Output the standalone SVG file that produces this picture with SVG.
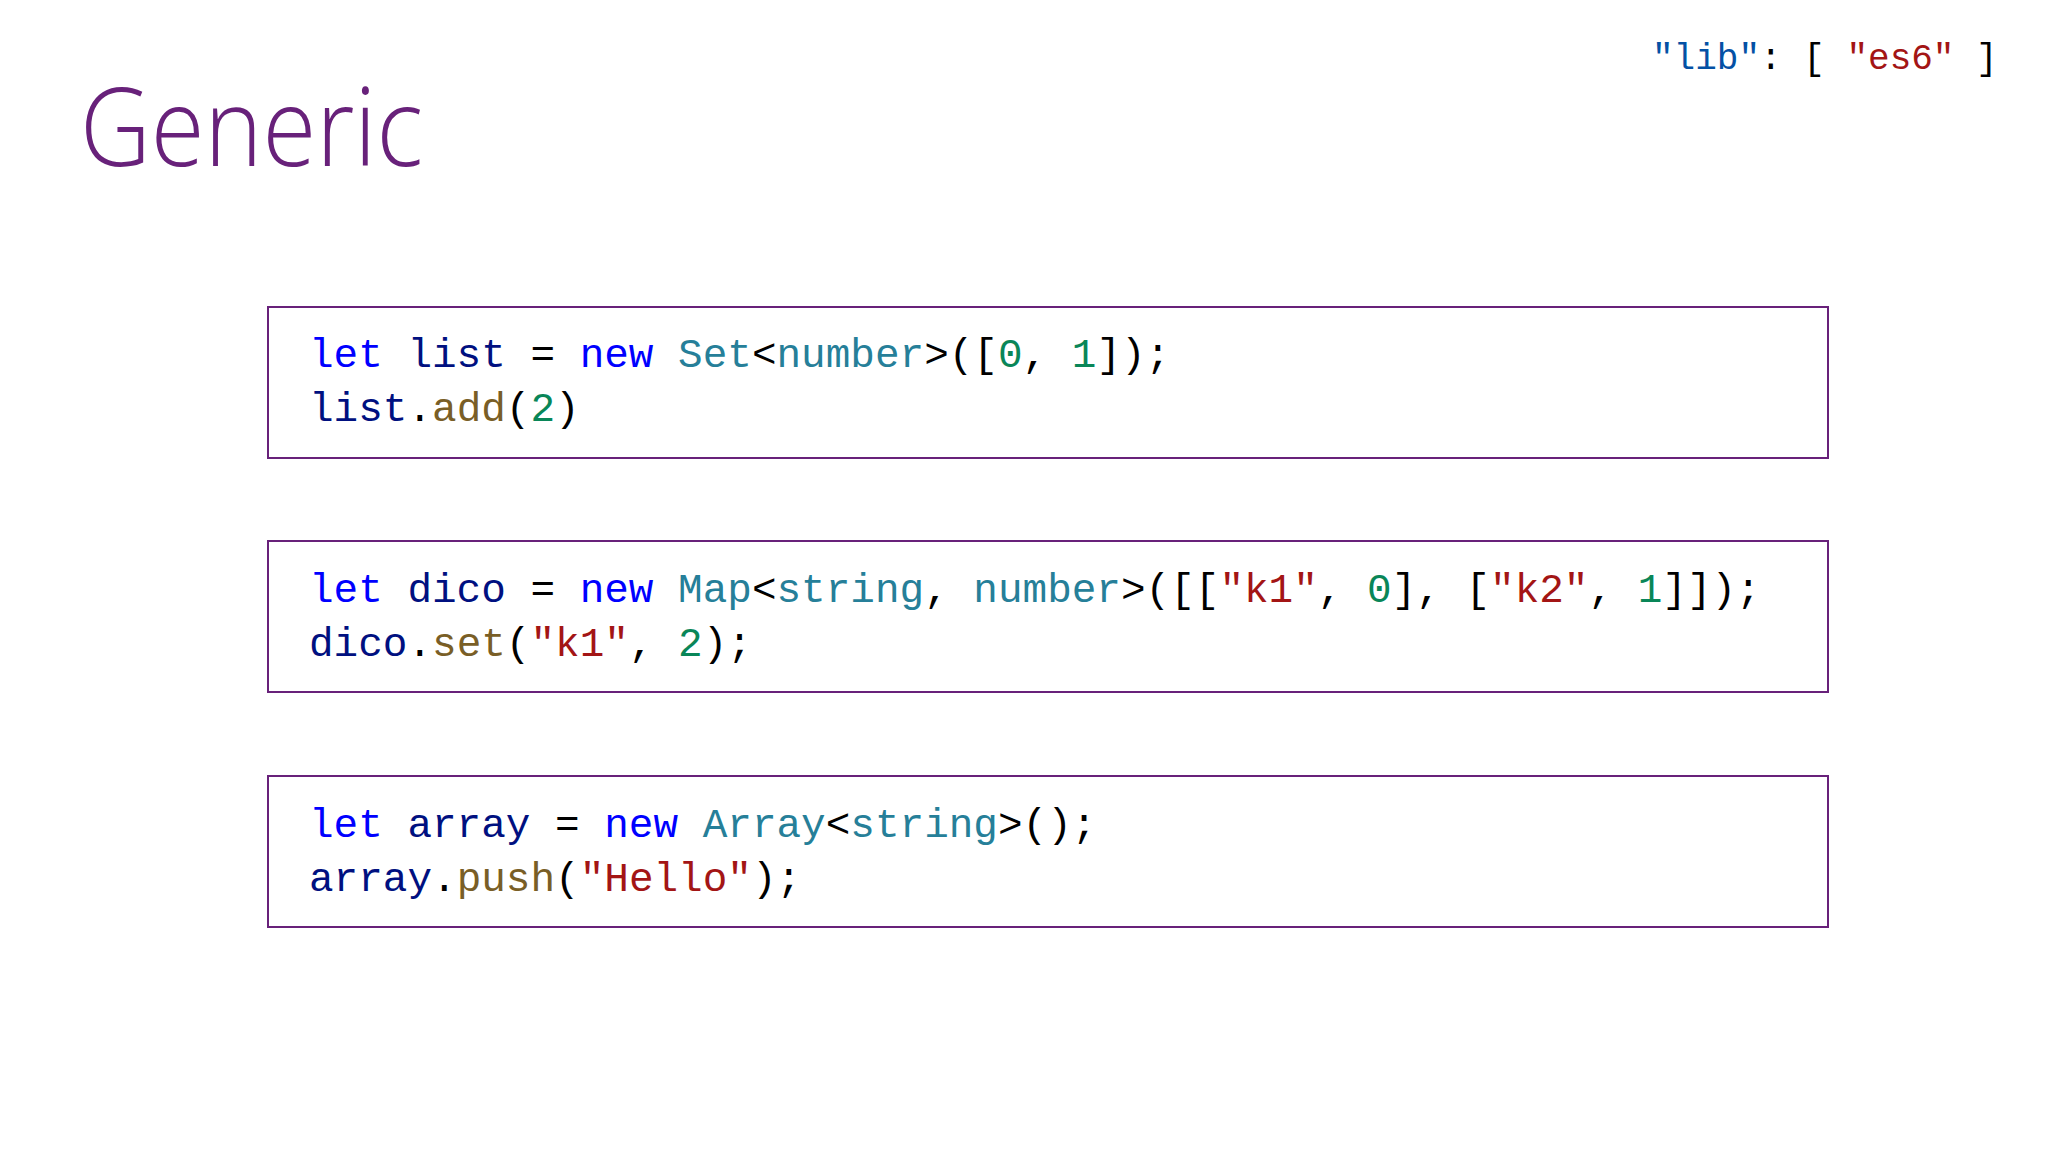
<svg xmlns="http://www.w3.org/2000/svg" width="2048" height="1152" viewBox="0 0 2048 1152">
<style>
.code{font-family:"Liberation Mono","DejaVu Sans Mono",monospace;font-size:41px;fill:#001080;white-space:pre}
.k{fill:#0000FF}.t{fill:#267F99}.n{fill:#098658}.s{fill:#A31515}.m{fill:#795E26}.p{fill:#000}
.box{fill:#fff;stroke:#68217A;stroke-width:2}
</style>
<rect width="2048" height="1152" fill="#fff"/>
<text x="80" y="166" font-family="Open Sans, sans-serif" font-weight="300" font-size="108" fill="#68217A" textLength="343" lengthAdjust="spacingAndGlyphs">Generic</text>
<text x="1652" y="69" class="code" style="font-size:36px" xml:space="preserve"><tspan fill="#0451A5">"lib"</tspan><tspan class="p">: [ </tspan><tspan class="s">"es6"</tspan><tspan class="p"> ]</tspan></text>
<g id="box1">
<rect class="box" x="268" y="307" width="1560" height="151"/>
<text class="code" x="309" y="367" xml:space="preserve"><tspan class="k">let</tspan> list <tspan class="p">=</tspan> <tspan class="k">new</tspan> <tspan class="t">Set</tspan><tspan class="p">&lt;</tspan><tspan class="t">number</tspan><tspan class="p">&gt;([</tspan><tspan class="n">0</tspan><tspan class="p">, </tspan><tspan class="n">1</tspan><tspan class="p">]);</tspan></text>
<text class="code" x="309" y="421" xml:space="preserve">list<tspan class="p">.</tspan><tspan class="m">add</tspan><tspan class="p">(</tspan><tspan class="n">2</tspan><tspan class="p">)</tspan></text>
</g>
<g id="box2">
<rect class="box" x="268" y="541" width="1560" height="151"/>
<text class="code" x="309" y="602" xml:space="preserve"><tspan class="k">let</tspan> dico <tspan class="p">=</tspan> <tspan class="k">new</tspan> <tspan class="t">Map</tspan><tspan class="p">&lt;</tspan><tspan class="t">string</tspan><tspan class="p">, </tspan><tspan class="t">number</tspan><tspan class="p">&gt;([[</tspan><tspan class="s">"k1"</tspan><tspan class="p">, </tspan><tspan class="n">0</tspan><tspan class="p">], [</tspan><tspan class="s">"k2"</tspan><tspan class="p">, </tspan><tspan class="n">1</tspan><tspan class="p">]]);</tspan></text>
<text class="code" x="309" y="656" xml:space="preserve">dico<tspan class="p">.</tspan><tspan class="m">set</tspan><tspan class="p">(</tspan><tspan class="s">"k1"</tspan><tspan class="p">, </tspan><tspan class="n">2</tspan><tspan class="p">);</tspan></text>
</g>
<g id="box3">
<rect class="box" x="268" y="776" width="1560" height="151"/>
<text class="code" x="309" y="837" xml:space="preserve"><tspan class="k">let</tspan> array <tspan class="p">=</tspan> <tspan class="k">new</tspan> <tspan class="t">Array</tspan><tspan class="p">&lt;</tspan><tspan class="t">string</tspan><tspan class="p">&gt;();</tspan></text>
<text class="code" x="309" y="891" xml:space="preserve">array<tspan class="p">.</tspan><tspan class="m">push</tspan><tspan class="p">(</tspan><tspan class="s">"Hello"</tspan><tspan class="p">);</tspan></text>
</g>
<g id="connectors"/>
</svg>
